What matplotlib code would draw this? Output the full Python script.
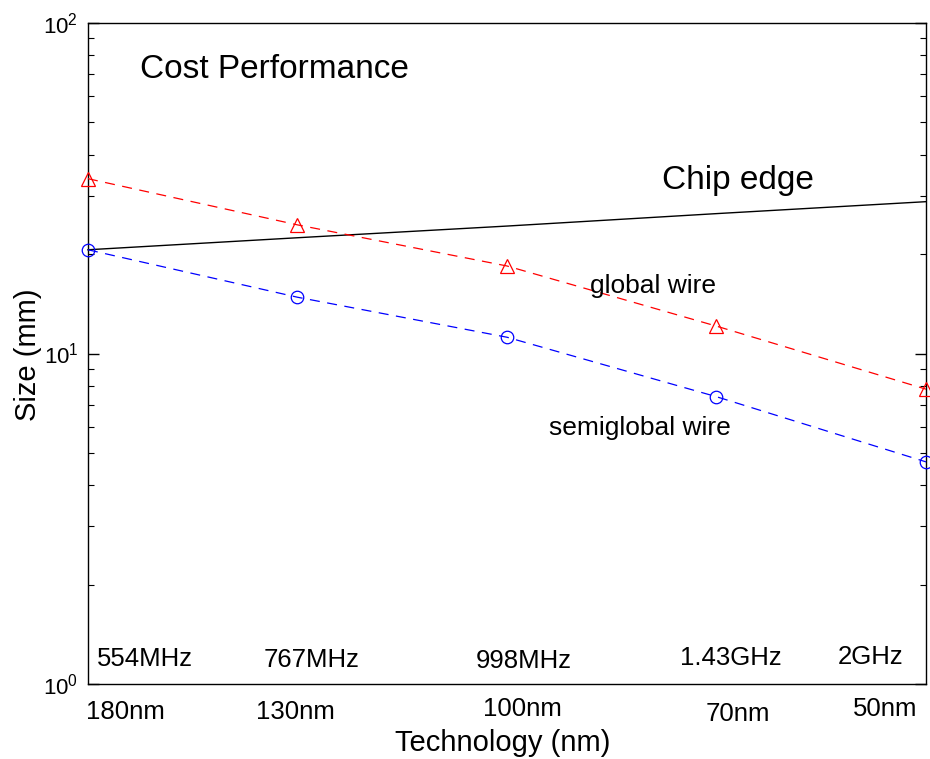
import matplotlib
matplotlib.use("Agg")
import matplotlib.pyplot as plt
from matplotlib.ticker import FixedLocator, FixedFormatter

plt.rcParams["font.family"] = ["Liberation Sans", "DejaVu Sans"]
plt.rcParams["mathtext.fontset"] = "custom"
plt.rcParams["mathtext.rm"] = "Liberation Sans"

# technology nodes, plotted at evenly spaced positions
nodes = ["180nm", "130nm", "100nm", "70nm", "50nm"]
clocks = ["554MHz", "767MHz", "998MHz", "1.43GHz", "2GHz"]
node_pos = [1, 2, 3, 4, 5]

global_wire = [33.8, 24.5, 18.4, 12.1, 7.8]
semiglobal_wire = [20.6, 14.8, 11.2, 7.4, 4.7]
chip_edge = [20.6, 22.4, 24.3, 26.5, 28.8]

y_major = [1, 10, 100]
y_major_labels = [r"$\mathregular{10^{0}}$", r"$\mathregular{10^{1}}$", r"$\mathregular{10^{2}}$"]

# label placement
clock_x = [1.272, 2.069, 3.081, 4.069, 4.737]
clock_y = [1.19, 1.18, 1.17, 1.20, 1.21]
node_x = [1.181, 1.988, 3.072, 4.103, 4.804]
node_y = [-0.042, -0.042, -0.038, -0.045, -0.038]

fig = plt.figure(figsize=(9.3, 7.59), dpi=100)
ax = fig.add_axes([0.0946, 0.0988, 0.9011, 0.8709])

dash = (0, (8, 6))
ax.plot(node_pos, global_wire, color="red", linestyle=dash, linewidth=0.9,
        marker="^", markersize=10, markerfacecolor="none", markeredgecolor="red",
        markeredgewidth=0.9, clip_on=False, zorder=3)
ax.plot(node_pos, semiglobal_wire, color="blue", linestyle=dash, linewidth=0.9,
        marker="o", markersize=9, markerfacecolor="none", markeredgecolor="blue",
        markeredgewidth=0.9, clip_on=False, zorder=3)
ax.plot(node_pos, chip_edge, color="black", linewidth=1.0, clip_on=False, zorder=2)

ax.set_yscale("log")
ax.set_ylim(1, 100)
ax.set_xlim(1, 5)
ax.set_xticks([])
ax.yaxis.set_major_locator(FixedLocator(y_major))
ax.yaxis.set_major_formatter(FixedFormatter(y_major_labels))

ax.tick_params(axis="y", which="both", direction="in", left=True, right=True,
               labelsize=16, pad=7)
ax.tick_params(axis="y", which="major", length=8, width=1.0)
ax.tick_params(axis="y", which="minor", length=4.5, width=0.8)
for spine in ax.spines.values():
    spine.set_linewidth(1.0)

ax.text(1.248, 68.2, "Cost Performance", fontsize=24, ha="left", va="baseline")
ax.text(3.740, 31.5, "Chip edge", fontsize=24, ha="left", va="baseline")
ax.text(3.396, 15.2, "global wire", fontsize=19, ha="left", va="baseline")
ax.text(3.200, 5.65, "semiglobal wire", fontsize=19, ha="left", va="baseline")

for x, y, label in zip(clock_x, clock_y, clocks):
    ax.text(x, y, label, fontsize=18.5, ha="center", va="center")

xform = ax.get_xaxis_transform()
for x, y, label in zip(node_x, node_y, nodes):
    ax.text(x, y, label, fontsize=18.5, ha="center", va="center", transform=xform)

fig.text(503 / 930, 1 - 743 / 759, "Technology (nm)", fontsize=21, ha="center", va="center")
fig.text(28 / 930, 1 - 355 / 759, "Size (mm)", fontsize=21, ha="center", va="center",
         rotation=90)

fig.savefig("out.png", dpi=100)
